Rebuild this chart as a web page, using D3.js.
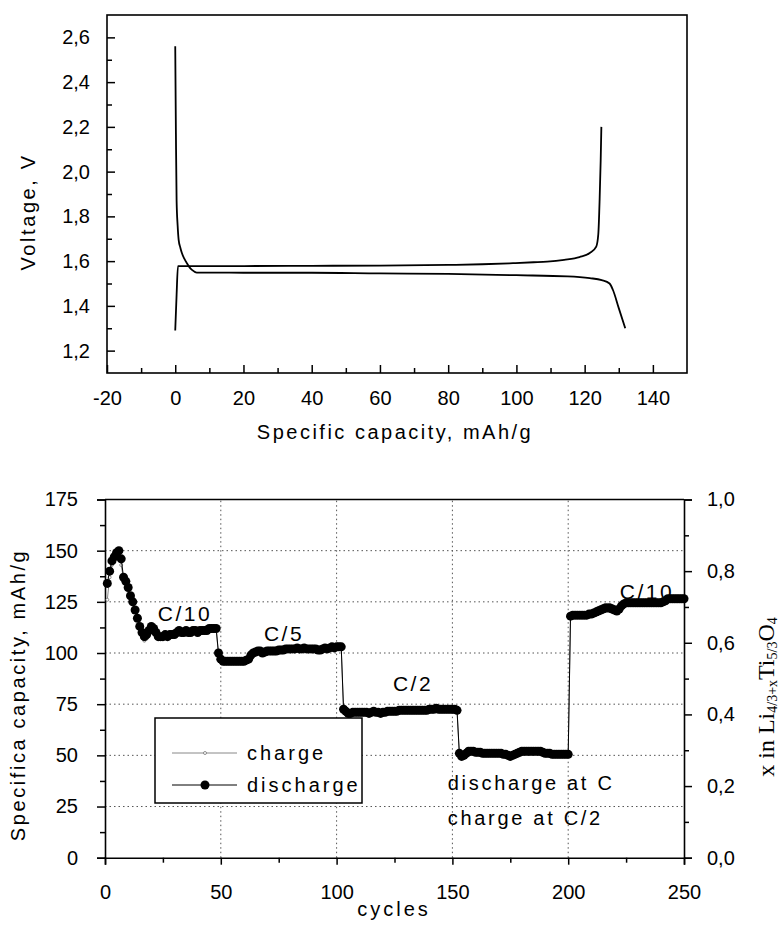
<!DOCTYPE html>
<html>
<head>
<meta charset="utf-8">
<script src="https://d3js.org/d3.v7.min.js"></script>
<style>
  body { margin: 0; background: #fff; }
  svg { display: block; font-family: "Liberation Sans", Arial, sans-serif; }
</style>
</head>
<body>
<div id="chart"></div>
<script>
// ---- top panel: voltage profile of one cycle
var chargeCap = [0, 0.4, 0.8, 5, 20, 40, 60, 80, 90, 99, 105, 109, 114, 118.5, 121.5, 123.4, 124.0, 124.4, 124.7, 124.9];
var chargeVolt = [1.29, 1.45, 1.578, 1.578, 1.578, 1.579, 1.58, 1.583, 1.586, 1.591, 1.595, 1.598, 1.606, 1.618, 1.636, 1.665, 1.72, 1.88, 2.05, 2.20];
var dischargeCap = [0, 0.2, 0.4, 0.7, 1.0, 1.5, 1.95, 2.7, 3.4, 4.2, 4.9, 6.3, 10, 20, 40, 60, 80, 100, 115, 121.5, 125, 127.3, 128.3, 130, 131.9];
var dischargeVolt = [2.56, 2.17, 1.87, 1.76, 1.695, 1.66, 1.636, 1.61, 1.591, 1.572, 1.561, 1.549, 1.549, 1.548, 1.548, 1.545, 1.543, 1.537, 1.532, 1.524, 1.515, 1.50, 1.471, 1.39, 1.30];

var capTicks = [-20, 0, 20, 40, 60, 80, 100, 120, 140];
var capMinor = [-10, 10, 30, 50, 70, 90, 110, 130];
var voltTicks = [1.2, 1.4, 1.6, 1.8, 2.0, 2.2, 2.4, 2.6];
var voltMinor = [1.3, 1.5, 1.7, 1.9, 2.1, 2.3, 2.5];

// ---- bottom panel: capacity vs cycle number
var cycles = d3.range(1, 251);
var dischargeCapacity = [
  134, 140, 145, 147, 149, 150, 146, 137, 135, 132,
  128, 125, 121, 117, 113, 110, 108, 109, 111, 113,
  112, 110, 108, 108, 108, 109, 108, 109, 109, 109,
  110, 111, 110, 110, 111, 110, 110, 111, 111, 110,
  111, 111, 111, 111, 112, 112, 112, 112, 100, 97,
  96, 96, 96, 96, 96, 96, 96, 96, 96, 96,
  96.5, 97, 99, 100, 100.5, 101, 101, 100, 100.5, 101,
  101, 101, 101, 101, 101.5, 101.5, 101.5, 102, 102, 102,
  102, 102, 102.5, 102, 102, 102.5, 102, 102, 102, 102,
  102, 101.5, 101.5, 102, 102.5, 102, 102.5, 103, 102.5, 103,
  103, 103, 72.5, 71.5, 70.5, 70.5, 71, 71, 71, 71,
  71, 71, 71, 70.5, 71, 71.5, 71, 71, 70.5, 71,
  71, 71.5, 71.5, 71.5, 71.5, 71.5, 72, 72, 72, 72,
  72, 72, 72, 72, 72, 72, 72, 72, 72, 72.5,
  72.5, 72.5, 73, 72.5, 72.5, 72.5, 72.5, 72.5, 72.5, 72.5,
  72.5, 72, 51, 49.5, 50, 51, 52, 52, 52, 51.5,
  51.5, 51.5, 51, 51, 51, 51, 51, 51, 51, 51,
  51, 50.5, 50.5, 50, 49.5, 50, 50.5, 51, 51.5, 52,
  52, 52, 52, 52, 52, 52, 52, 52, 51.5, 51,
  51, 51, 50.5, 50.5, 50.5, 50.5, 50.5, 50.5, 50.5, 50.5,
  118, 118.5, 118.5, 118.5, 118.5, 118.5, 118.5, 118.5, 119, 119,
  119.5, 120, 120.5, 121, 121.5, 122, 122, 122, 121.5, 121,
  120.5, 121.5, 123, 124, 124.5, 124.5, 124.5, 124.5, 124.5, 124.5,
  124.5, 124.5, 124.5, 124.5, 124.5, 124.5, 124.5, 124.5, 124.5, 124.5,
  125, 125.5, 126.5, 126.5, 126.5, 126.5, 126.5, 126.5, 126.5, 126.5
];
var chargeCapacity = [
  126, 137, 143, 146, 148, 149, 143, 136, 134, 131,
  127, 124, 120, 116, 112, 108, 106, 107, 110, 112,
  111, 109, 107, 107, 107.5, 108, 108, 108.5, 108.5, 109,
  109.5, 110, 109.5, 109.5, 110, 109.5, 109.5, 110, 110, 109.5,
  110, 110.5, 110.5, 110.5, 111, 111, 111.5, 111.5, 99.5, 96.5,
  96, 95.5, 95.5, 95.5, 95.5, 95.5, 95.5, 96, 95.5, 95.5,
  96, 96.5, 98.5, 100, 100, 100.5, 100.5, 100, 100, 100.5,
  100.5, 101, 101, 101, 101, 101, 101.5, 101.5, 101.5, 101.5,
  102, 102, 102, 102, 101.5, 102, 102, 101.5, 101.5, 101.5,
  101.5, 101, 101, 101.5, 102, 101.5, 102, 102.5, 102, 102.5,
  102.5, 102.5, 72, 71, 70.5, 70.5, 70.5, 70.5, 71, 71,
  71, 71, 70.5, 70.5, 71, 71, 71, 70.5, 70.5, 71,
  71, 71, 71.5, 71.5, 71.5, 71.5, 71.5, 72, 72, 72,
  72, 72, 72, 72, 72, 72, 72, 72, 72, 72,
  72, 72.5, 72.5, 72.5, 72.5, 72.5, 72.5, 72, 72, 72,
  72, 72, 50.5, 49.5, 50, 50.5, 51.5, 51.5, 51.5, 51,
  51, 51, 51, 50.5, 50.5, 50.5, 50.5, 50.5, 50.5, 50.5,
  50.5, 50, 50, 50, 49.5, 50, 50, 50.5, 51, 51.5,
  51.5, 51.5, 51.5, 51.5, 51.5, 51.5, 51.5, 51.5, 51, 50.5,
  50.5, 50.5, 50.5, 50, 50, 50, 50, 50, 50, 50,
  118.5, 119, 119, 119, 119, 119, 119, 119, 119.5, 120,
  120.5, 121.5, 122, 122.5, 123, 123.5, 123.5, 123.5, 123, 122.5,
  122, 122.5, 123.5, 124.5, 125, 125, 125, 125, 125, 125,
  125, 125, 125, 125, 125, 125, 125, 125, 125, 125,
  125.5, 126, 127, 127, 127, 127, 127, 127, 127, 127
];

var cycleTicks = [0, 50, 100, 150, 200, 250];
var cycleMinor = [25, 75, 125, 175, 225];
var capacityTicks = [0, 25, 50, 75, 100, 125, 150, 175];
var capacityMinor = [12.5, 37.5, 62.5, 87.5, 112.5, 137.5, 162.5];
var xLiTicks = [0, 0.2, 0.4, 0.6, 0.8, 1.0];
var xLiMinor = [0.1, 0.3, 0.5, 0.7, 0.9];
var seriesNames = ["charge", "discharge"];

var commaFmt = function (d) { return d3.format(".1f")(d).replace(".", ","); };
var plainFmt = function (d) { return String(d); };

var svg = d3.select("#chart").append("svg")
    .attr("width", 780)
    .attr("height", 932);

// ================= top panel =================
var x1 = d3.scaleLinear().domain([-20, 150]).range([107, 687]);
var y1 = d3.scaleLinear().domain([1.1, 2.7]).range([373, 15]);

var upper = svg.append("g");

upper.append("g")
    .attr("transform", "translate(0,373)")
    .call(d3.axisBottom(x1).tickValues(capTicks).tickSizeInner(-8).tickSizeOuter(0).tickPadding(18).tickFormat(plainFmt))
    .call(function (g) { g.select(".domain").remove(); });
upper.append("g")
    .attr("transform", "translate(0,373)")
    .call(d3.axisBottom(x1).tickValues(capMinor).tickSizeInner(-5).tickSizeOuter(0).tickFormat(""))
    .call(function (g) { g.select(".domain").remove(); });
upper.append("g")
    .attr("transform", "translate(107,0)")
    .call(d3.axisLeft(y1).tickValues(voltTicks).tickSizeInner(-8).tickSizeOuter(0).tickPadding(17).tickFormat(commaFmt))
    .call(function (g) { g.select(".domain").remove(); });
upper.append("g")
    .attr("transform", "translate(107,0)")
    .call(d3.axisLeft(y1).tickValues(voltMinor).tickSizeInner(-5).tickSizeOuter(0).tickFormat(""))
    .call(function (g) { g.select(".domain").remove(); });

upper.selectAll(".tick line").attr("stroke", "#000").attr("stroke-width", 1.5);
upper.selectAll(".tick text").style("font-size", "20px").attr("fill", "#000");

upper.append("rect")
    .attr("x", 107).attr("y", 15)
    .attr("width", 580).attr("height", 358)
    .attr("fill", "none").attr("stroke", "#000").attr("stroke-width", 1.6);

var line1 = d3.line()
    .x(function (d) { return x1(d[0]); })
    .y(function (d) { return y1(d[1]); })
    .curve(d3.curveMonotoneX);

upper.append("path")
    .datum(d3.zip(chargeCap, chargeVolt))
    .attr("d", line1)
    .attr("fill", "none").attr("stroke", "#000").attr("stroke-width", 1.8);
upper.append("path")
    .datum(d3.zip(dischargeCap, dischargeVolt))
    .attr("d", line1)
    .attr("fill", "none").attr("stroke", "#000").attr("stroke-width", 1.8);

upper.append("text")
    .attr("x", 395).attr("y", 439)
    .attr("text-anchor", "middle")
    .style("font-size", "20px").style("letter-spacing", "2.5px")
    .text("Specific capacity, mAh/g");
upper.append("text")
    .attr("transform", "translate(35,212) rotate(-90)")
    .attr("text-anchor", "middle")
    .style("font-size", "20px").style("letter-spacing", "2.6px")
    .text("Voltage, V");

// ================= bottom panel =================
var x2 = d3.scaleLinear().domain([0, 250]).range([105, 684]);
var y2 = d3.scaleLinear().domain([0, 175]).range([857.7, 499.5]);
var y2r = d3.scaleLinear().domain([0, 1]).range([857.7, 499.5]);

var bot = svg.append("g");

// dotted grid
bot.append("g").selectAll("line.h")
    .data(capacityTicks.filter(function (d) { return d > 0 && d < 175; }))
    .enter().append("line")
    .attr("x1", x2(0)).attr("x2", x2(250))
    .attr("y1", function (d) { return y2(d); })
    .attr("y2", function (d) { return y2(d); })
    .attr("stroke", "#555").attr("stroke-width", 1).attr("stroke-dasharray", "1.5,3");
bot.append("g").selectAll("line.v")
    .data(cycleTicks.filter(function (d) { return d > 0 && d < 250; }))
    .enter().append("line")
    .attr("x1", function (d) { return x2(d); })
    .attr("x2", function (d) { return x2(d); })
    .attr("y1", y2(0)).attr("y2", y2(175))
    .attr("stroke", "#555").attr("stroke-width", 1).attr("stroke-dasharray", "1.5,3");

bot.append("line")
    .attr("x1", x2(0)).attr("x2", x2(250))
    .attr("y1", y2(175)).attr("y2", y2(175))
    .attr("stroke", "#000").attr("stroke-width", 1.6);

var axes = bot.append("g");
axes.append("g")
    .attr("transform", "translate(0,857.7)")
    .call(d3.axisBottom(x2).tickValues(cycleTicks).tickSize(7).tickPadding(20).tickFormat(plainFmt));
axes.append("g")
    .attr("transform", "translate(0,857.7)")
    .call(d3.axisBottom(x2).tickValues(cycleMinor).tickSize(5).tickFormat(""))
    .call(function (g) { g.select(".domain").remove(); });
axes.append("g")
    .attr("transform", "translate(105,0)")
    .call(d3.axisLeft(y2).tickValues(capacityTicks).tickSize(8).tickPadding(19).tickFormat(plainFmt));
axes.append("g")
    .attr("transform", "translate(105,0)")
    .call(d3.axisLeft(y2).tickValues(capacityMinor).tickSize(5).tickFormat(""))
    .call(function (g) { g.select(".domain").remove(); });
axes.append("g")
    .attr("transform", "translate(684,0)")
    .call(d3.axisRight(y2r).tickValues(xLiTicks).tickSize(8).tickPadding(15).tickFormat(commaFmt));
axes.append("g")
    .attr("transform", "translate(684,0)")
    .call(d3.axisRight(y2r).tickValues(xLiMinor).tickSize(5).tickFormat(""))
    .call(function (g) { g.select(".domain").remove(); });

axes.selectAll(".domain").attr("stroke", "#000").attr("stroke-width", 1.6);
axes.selectAll(".tick line").attr("stroke", "#000").attr("stroke-width", 1.5);
axes.selectAll(".tick text").style("font-size", "20px").attr("fill", "#000");

// rate annotations (placed in data units)
var ann = bot.append("g").style("font-size", "21px").style("letter-spacing", "2.5px");
ann.append("text").attr("x", x2(34.5)).attr("y", y2(115.7)).attr("text-anchor", "middle").text("C/10");
ann.append("text").attr("x", x2(77.3)).attr("y", y2(105.9)).attr("text-anchor", "middle").text("C/5");
ann.append("text").attr("x", x2(133)).attr("y", y2(81.5)).attr("text-anchor", "middle").text("C/2");
ann.append("text").attr("x", x2(234)).attr("y", y2(126.2)).attr("text-anchor", "middle").text("C/10");
ann.append("text").attr("x", x2(148)).attr("y", y2(33.1)).style("font-size", "20px").style("letter-spacing", "2.7px").text("discharge at C");
ann.append("text").attr("x", x2(148)).attr("y", y2(16)).style("font-size", "20px").style("letter-spacing", "2.7px").text("charge at C/2");

var line2d = d3.line()
    .x(function (d) { return x2(d[0]); })
    .y(function (d) { return y2(d[1]); });

var dis = d3.zip(cycles, dischargeCapacity);
var chg = d3.zip(cycles, chargeCapacity);

// charge drawn first: it shows only where it leaves the discharge trace
bot.append("path").datum(chg).attr("d", line2d)
    .attr("fill", "none").attr("stroke", "#888").attr("stroke-width", 1);
bot.append("g").selectAll("circle")
    .data(chg).enter().append("circle")
    .attr("cx", function (d) { return x2(d[0]); })
    .attr("cy", function (d) { return y2(d[1]); })
    .attr("r", 1.5).attr("fill", "#fff").attr("stroke", "#666").attr("stroke-width", 0.7);
bot.append("path").datum(dis).attr("d", line2d)
    .attr("fill", "none").attr("stroke", "#000").attr("stroke-width", 1);
bot.append("g").selectAll("circle")
    .data(dis).enter().append("circle")
    .attr("cx", function (d) { return x2(d[0]); })
    .attr("cy", function (d) { return y2(d[1]); })
    .attr("r", 4.5).attr("fill", "#000");

// legend
var leg = bot.append("g");
leg.append("rect")
    .attr("x", 155).attr("y", 718).attr("width", 207).attr("height", 85)
    .attr("fill", "#fff").attr("stroke", "#000").attr("stroke-width", 1.5);
var rows = leg.selectAll("g.row").data(seriesNames).enter().append("g")
    .attr("transform", function (d, i) { return "translate(0," + (753 + i * 32) + ")"; });
rows.append("line")
    .attr("x1", 172).attr("x2", 237)
    .attr("stroke", function (d) { return d === "charge" ? "#888" : "#000"; })
    .attr("stroke-width", 1);
rows.append("circle")
    .attr("cx", 205)
    .attr("r", function (d) { return d === "charge" ? 1.5 : 4.5; })
    .attr("fill", function (d) { return d === "charge" ? "#fff" : "#000"; })
    .attr("stroke", function (d) { return d === "charge" ? "#666" : "none"; })
    .attr("stroke-width", 0.7);
rows.append("text")
    .attr("x", 247).attr("dy", "0.35em")
    .style("font-size", "20px").style("letter-spacing", "3px")
    .text(function (d) { return d; });

// axis titles
bot.append("text")
    .attr("x", 394).attr("y", 916)
    .attr("text-anchor", "middle")
    .style("font-size", "20px").style("letter-spacing", "3px")
    .text("cycles");
bot.append("text")
    .attr("transform", "translate(25,695) rotate(-90)")
    .attr("text-anchor", "middle")
    .style("font-size", "20px").style("letter-spacing", "2.6px")
    .text("Specifica capacity, mAh/g");

var rt = bot.append("text")
    .attr("transform", "translate(774,697) rotate(-90)")
    .attr("text-anchor", "middle")
    .style("font-family", "'Liberation Serif', 'Times New Roman', serif")
    .style("font-size", "24px");
rt.append("tspan").text("x in Li");
rt.append("tspan").attr("dy", 3).style("font-size", "14px").text("4/3+x");
rt.append("tspan").attr("dy", -3).text("Ti");
rt.append("tspan").attr("dy", 3).style("font-size", "14px").text("5/3");
rt.append("tspan").attr("dy", -3).text("O");
rt.append("tspan").attr("dy", 3).style("font-size", "14px").text("4");
</script>
</body>
</html>
